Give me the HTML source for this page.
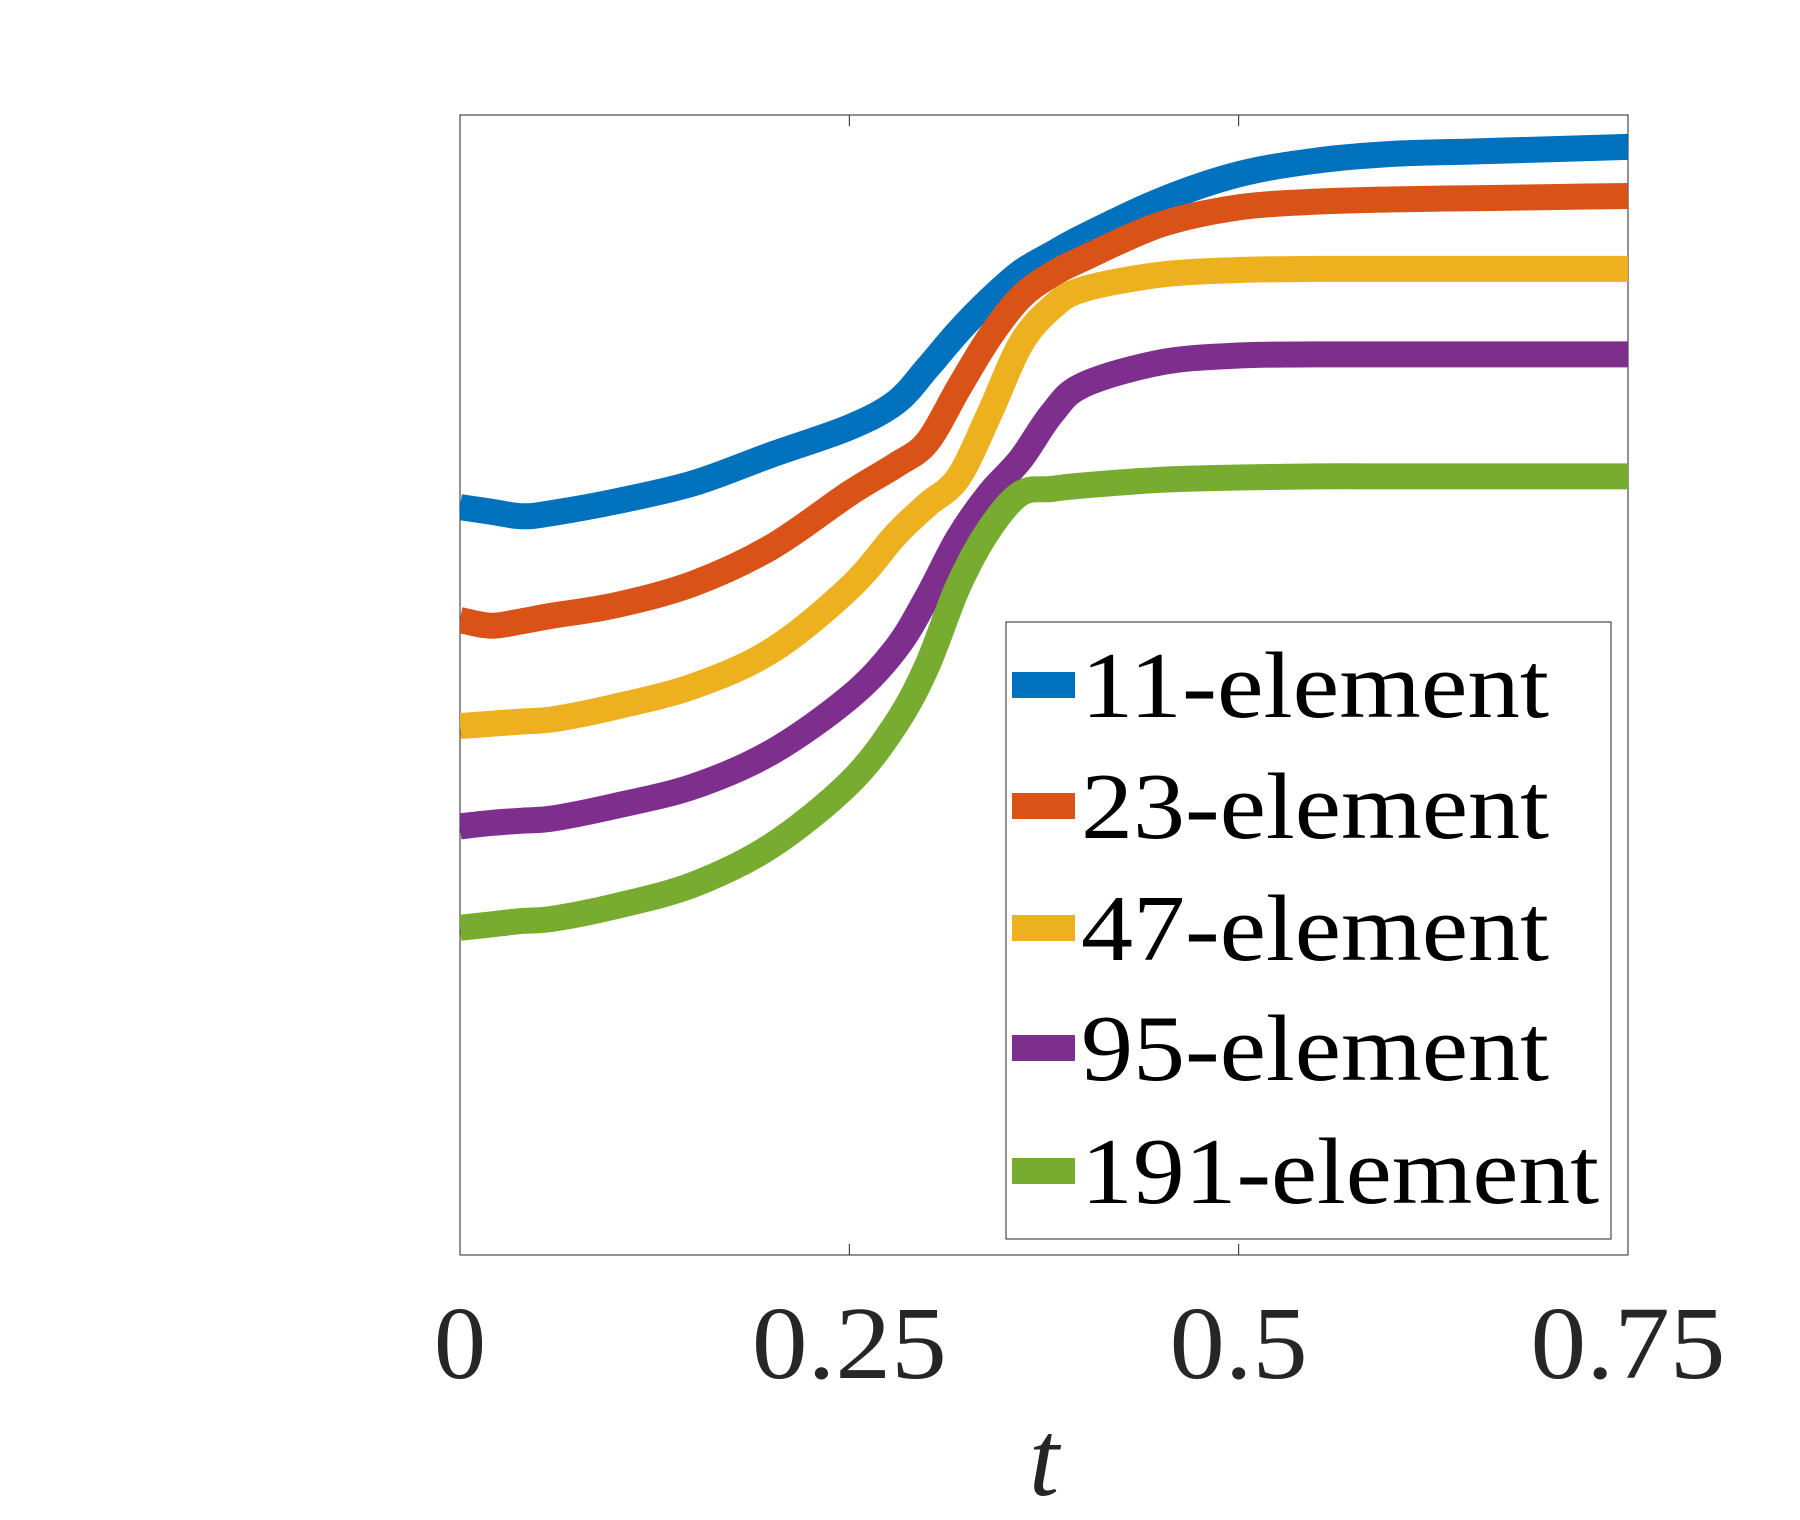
<!DOCTYPE html>
<html><head><meta charset="utf-8"><style>
html,body{margin:0;padding:0;background:#fff;}
svg{display:block;font-family:"Liberation Serif",serif;}
</style></head><body>
<svg id="chart" width="1800" height="1520" viewBox="0 0 1800 1520" xmlns="http://www.w3.org/2000/svg">
<rect x="0" y="0" width="1800" height="1520" fill="#fff"/>
<g id="plot"></g>
</svg>
<script>
const tValues = [0,0.02,0.04,0.06,0.1,0.15,0.2,0.25,0.28,0.3,0.32,0.34,0.36,0.38,0.4,0.45,0.5,0.55,0.6,0.65,0.7,0.75];
const blueVals =   [0.656,0.652,0.648,0.651,0.661,0.677,0.702,0.726,0.748,0.778,0.810,0.838,0.862,0.878,0.893,0.925,0.948,0.960,0.966,0.968,0.970,0.972];
const redVals =    [0.557,0.552,0.556,0.561,0.570,0.589,0.621,0.668,0.693,0.713,0.760,0.805,0.840,0.860,0.874,0.904,0.919,0.924,0.926,0.927,0.928,0.929];
const yellowVals = [0.464,0.466,0.468,0.470,0.481,0.499,0.530,0.585,0.632,0.658,0.682,0.738,0.799,0.831,0.847,0.860,0.864,0.865,0.865,0.865,0.865,0.865];
const purpleVals = [0.376,0.379,0.381,0.383,0.394,0.411,0.441,0.489,0.532,0.577,0.629,0.668,0.698,0.738,0.763,0.783,0.789,0.790,0.790,0.790,0.790,0.790];
const greenVals =  [0.287,0.290,0.293,0.295,0.306,0.325,0.359,0.414,0.466,0.517,0.587,0.637,0.668,0.672,0.675,0.680,0.682,0.683,0.683,0.683,0.683,0.683];
const seriesNames = ["11-element","23-element","47-element","95-element","191-element"];
const seriesColors = ["#0072BD","#D95319","#EDB120","#7E2F8E","#77AC30"];
const xTicks = [0,0.25,0.5,0.75];
const xTickLabels = ["0","0.25","0.5","0.75"];

const allSeries = [blueVals, redVals, yellowVals, purpleVals, greenVals];
const L=460,R=1628,T=115,B=1255;
const xs = t => L + (t-0)/(0.75-0)*(R-L);
const ys = v => B - v*(B-T);
const NS="http://www.w3.org/2000/svg";
const plot=document.getElementById('plot');
function mk(tag,attrs,parent){const e=document.createElementNS(NS,tag);for(const k in attrs)e.setAttribute(k,attrs[k]);(parent||plot).appendChild(e);return e;}

const clip=mk('clipPath',{id:'clip'});
mk('rect',{x:L,y:T,width:R-L,height:B-T},clip);

const axes=mk('rect',{x:L,y:T,width:R-L,height:B-T,fill:'none',stroke:'#262626','stroke-width':1});



xTicks.forEach((t,i)=>{
  const x=xs(t);
  const tb=mk('line',{x1:x,x2:x,y1:B,y2:B-11,stroke:'#262626','stroke-width':1});
  
  
  const tt=mk('line',{x1:x,x2:x,y1:T,y2:T+11,stroke:'#262626','stroke-width':1});
  
  
  const lab=mk('text',{x:x,y:1378,'text-anchor':'middle','font-size':104,fill:'#262626',textLength:xTickLabels[i].length===1?52:(xTickLabels[i].length===3?138:195),lengthAdjust:'spacingAndGlyphs'});
  lab.textContent=xTickLabels[i];
  
  
});

function pathFor(vals){
  const p=vals.map((v,i)=>[xs(tValues[i]),ys(v)]);
  let d=`M${p[0][0]},${p[0][1]}`;
  for(let i=0;i<p.length-1;i++){
    const p0=p[Math.max(0,i-1)],p1=p[i],p2=p[i+1],p3=p[Math.min(p.length-1,i+2)];
    const c1=[p1[0]+(p2[0]-p0[0])/6,p1[1]+(p2[1]-p0[1])/6];
    const c2=[p2[0]-(p3[0]-p1[0])/6,p2[1]-(p3[1]-p1[1])/6];
    d+=` C${c1[0]},${c1[1]} ${c2[0]},${c2[1]} ${p2[0]},${p2[1]}`;
  }
  return d;
}
allSeries.forEach((vals,i)=>{
  const path=mk('path',{d:pathFor(vals),fill:'none',stroke:seriesColors[i],'stroke-width':26,'clip-path':'url(#clip)','stroke-linejoin':'round'});
  
  
});

const xt=mk('text',{x:1044,y:1495,'text-anchor':'middle','font-size':108,'font-style':'italic',fill:'#262626'});
xt.textContent='t';



const leg=mk('g',{});


mk('rect',{x:1006,y:622,width:605,height:617,fill:'#fff',stroke:'#262626','stroke-width':1},leg);
const rowY=[685,806,928,1048,1171];
seriesNames.forEach((n,i)=>{
  const g=mk('g',{},leg);
  
  
  mk('line',{x1:1012,x2:1075,y1:rowY[i],y2:rowY[i],stroke:seriesColors[i],'stroke-width':26},g);
  const tx=mk('text',{x:1081,y:rowY[i]+32,'font-size':94,fill:'#000',textLength:n.length===11?518:468,lengthAdjust:'spacingAndGlyphs'},g);
  tx.textContent=n;
});
</script>
</body></html>
